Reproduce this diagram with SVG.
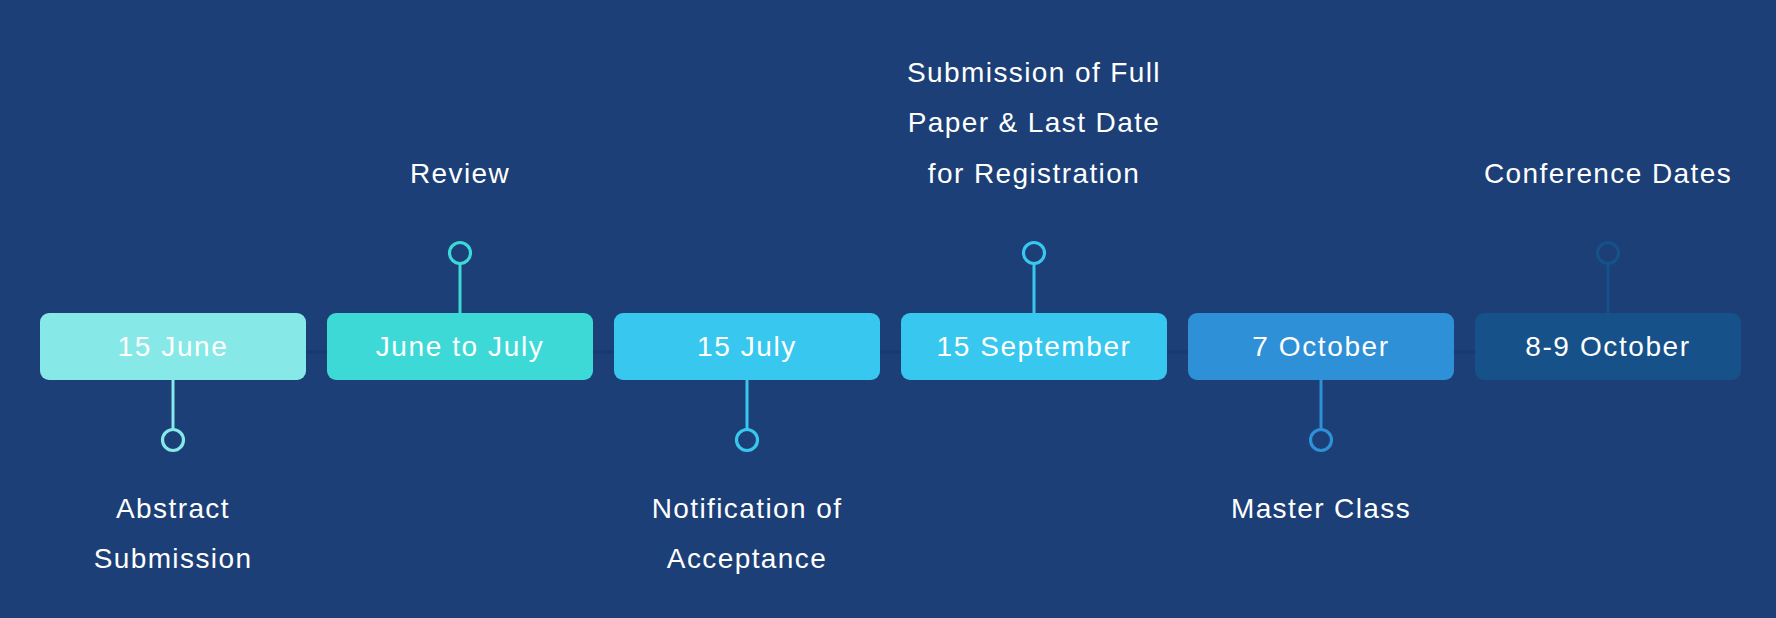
<svg xmlns="http://www.w3.org/2000/svg" width="1776" height="618" viewBox="0 0 1776 618">
<style>
.box{stroke:none}
.bt{font-family:"Liberation Sans",Arial,sans-serif;font-size:28px;letter-spacing:1.6px;fill:#ffffff;text-anchor:middle}
.lb{font-family:"Liberation Sans",Arial,sans-serif;font-size:28px;letter-spacing:1.4px;fill:#ffffff;text-anchor:middle}
.stem{stroke-width:3;fill:none}
.dot{stroke-width:3.2;fill:#1b3f76}
</style>
<rect x="0" y="0" width="1776" height="618" fill="#1b3f76"/>
<g id="connectors">
<line x1="40" y1="352" x2="1741" y2="352" stroke="#183a6c" stroke-width="3"/>
<line class="stem" x1="173" y1="379" x2="173" y2="429" stroke="#87e9e7"/>
<circle class="dot" cx="173" cy="440" r="10.5" stroke="#87e9e7"/>
<line class="stem" x1="460" y1="313" x2="460" y2="264" stroke="#3dd9d6"/>
<circle class="dot" cx="460" cy="253" r="10.5" stroke="#3dd9d6"/>
<line class="stem" x1="747" y1="379" x2="747" y2="429" stroke="#38c8ef"/>
<circle class="dot" cx="747" cy="440" r="10.5" stroke="#38c8ef"/>
<line class="stem" x1="1034" y1="313" x2="1034" y2="264" stroke="#38c8ef"/>
<circle class="dot" cx="1034" cy="253" r="10.5" stroke="#38c8ef"/>
<line class="stem" x1="1321" y1="379" x2="1321" y2="429" stroke="#2e90d6"/>
<circle class="dot" cx="1321" cy="440" r="10.5" stroke="#2e90d6"/>
<line class="stem" x1="1608" y1="313" x2="1608" y2="264" stroke="#16518a"/>
<circle class="dot" cx="1608" cy="253" r="10.5" stroke="#16518a"/>
</g>
<g id="n1">
<rect class="box" x="40" y="313" width="266" height="67" rx="9" fill="#87e9e7"/>
<text class="bt" x="173" y="356">15 June</text>
<text class="lb" x="173" y="518">Abstract</text>
<text class="lb" x="173" y="568">Submission</text>
</g>
<g id="n2">
<rect class="box" x="327" y="313" width="266" height="67" rx="9" fill="#3dd9d6"/>
<text class="bt" x="460" y="356">June to July</text>
<text class="lb" x="460" y="183">Review</text>
</g>
<g id="n3">
<rect class="box" x="614" y="313" width="266" height="67" rx="9" fill="#38c8ef"/>
<text class="bt" x="747" y="356">15 July</text>
<text class="lb" x="747" y="518">Notification of</text>
<text class="lb" x="747" y="568">Acceptance</text>
</g>
<g id="n4">
<rect class="box" x="901" y="313" width="266" height="67" rx="9" fill="#38c8ef"/>
<text class="bt" x="1034" y="356">15 September</text>
<text class="lb" x="1034" y="82">Submission of Full</text>
<text class="lb" x="1034" y="132">Paper &amp; Last Date</text>
<text class="lb" x="1034" y="183">for Registration</text>
</g>
<g id="n5">
<rect class="box" x="1188" y="313" width="266" height="67" rx="9" fill="#2e90d6"/>
<text class="bt" x="1321" y="356">7 October</text>
<text class="lb" x="1321" y="518">Master Class</text>
</g>
<g id="n6">
<rect class="box" x="1475" y="313" width="266" height="67" rx="9" fill="#16518a"/>
<text class="bt" x="1608" y="356">8-9 October</text>
<text class="lb" x="1608" y="183">Conference Dates</text>
</g>
</svg>
